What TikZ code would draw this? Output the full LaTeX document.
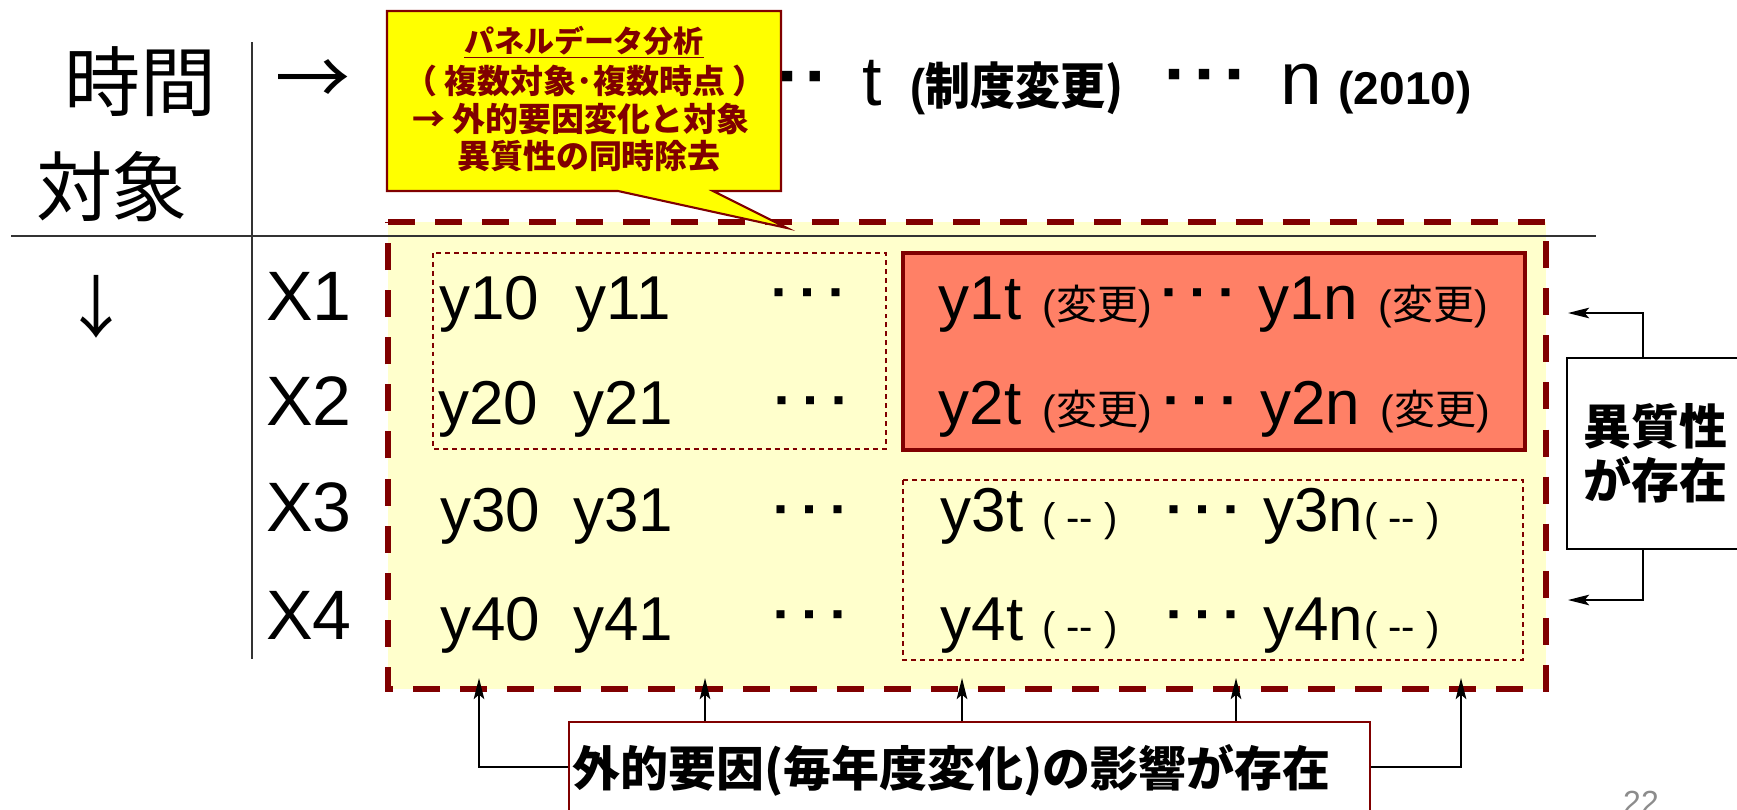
\documentclass[tikz,border=0pt]{standalone}
\usepackage{fontspec}
\usepackage{graphicx}
\setmainfont{Liberation Sans}
\newfontfamily\jp{Noto Sans CJK JP}
\usetikzlibrary{arrows.meta}
\newdimen\pxu \pxu=0.569pt
\newdimen\pxtmp
\newcommand\fpx[1]{\pxtmp=#1\pxu\fontsize{\the\pxtmp}{1.2\pxtmp}\selectfont}
% square dots: #1 font size (px), #2 gap (px)
\newcommand\sq[1]{{\jp\fpx{#1}■}}
\newcommand\rowdots{\sq{10}\hspace{18.5\pxu}\sq{10}\hspace{18.5\pxu}\sq{10}}
\newcommand\topdots{\sq{13}\hspace{17\pxu}\sq{13}\hspace{17\pxu}\sq{13}}
\definecolor{dred}{RGB}{128,0,0}
\definecolor{lyel}{RGB}{255,255,204}
\definecolor{salm}{RGB}{255,128,102}
\definecolor{cyel}{RGB}{255,255,0}
\definecolor{pgray}{RGB}{140,140,140}
\begin{document}
\begin{tikzpicture}[x=0.02cm,y=-0.02cm,
  tok/.style={inner sep=0pt,anchor=base},
  ctr/.style={inner sep=0pt,anchor=center},
  rowtxt/.style={tok,font=\fpx{62}},
  small/.style={tok,font=\fpx{41}},
  dashpar/.style={tok,font=\fpx{40}},
  dots/.style={ctr},
  ctxt/.style={tok,text=dred,font=\jp\bfseries\fpx{33}},
  arr/.style={-{Stealth[length=12pt,width=6pt,inset=2.5pt]},line width=1.1pt},
  thindash/.style={draw=dred,line width=0.85pt,dash pattern=on 2.8pt off 2.3pt},
  axis/.style={line width=1.1pt,draw=black!80},
]
\useasboundingbox (0,0) rectangle (1737,809);
\clip (0,0) rectangle (1737,809);

% panel box
\draw[fill=lyel,draw=dred,line width=3.7pt,dash pattern=on 15.4pt off 11.4pt]
  (388,222) -- (1546,222) -- (1546,689) -- (388,689) -- cycle;

% axes
\draw[axis] (11,236) -- (1596,236);
\draw[axis] (252,42) -- (252,659);

% inner boxes
\draw[thindash] (433,253) rectangle (886,449);
\draw[fill=salm,draw=dred,line width=2.8pt] (903,253) rectangle (1525,450);
\draw[thindash] (903,480) rectangle (1523,660);

% headers
\node[ctr,font=\jp\fpx{76}] (jikan) at (140,82) {時間};
\node[ctr,font=\jp\fpx{76}] (taisho) at (112,187) {対象};
\node[ctr,font=\jp\fpx{75}] (rarr) at (313,83) {→};
\node[ctr,font=\jp\fpx{68}] (darr) at (96,307) {↓};

% top line
\node[dots] (td0) at (801,77) {\sq{13}\hspace{15\pxu}\sq{13}};
\node[tok,font=\fpx{70}] (tt) at (872,105) {t};
\node[tok,font=\bfseries\fpx{50}] (tch) at (1017,104) {\scalebox{0.9}[1]{(\jp 制度変更)}};
\node[dots] (td1) at (1204,75) {\topdots};
\node[tok,font=\fpx{75}] (tn) at (1301,104) {n};
\node[tok,font=\bfseries\fpx{46}] (tyr) at (1405,104) {(2010)};

% row labels
\node[tok,font=\fpx{70}] (x1) at (309,320) {X1};
\node[tok,font=\fpx{70}] (x2) at (309,425) {X2};
\node[tok,font=\fpx{70}] (x3) at (309,531) {X3};
\node[tok,font=\fpx{70}] (x4) at (309,639) {X4};

% row 1
\node[rowtxt] (y10) at (489,319) {y10};
\node[rowtxt] (y11) at (623,319) {y11};
\node[dots] (d1a) at (807,293) {\rowdots};
\node[rowtxt] (y1t) at (980,319) {y1t};
\node[small] (c1t) at (1097,319) {(\jp 変更\rmfamily)};
\node[dots] (d1b) at (1197,293) {\rowdots};
\node[rowtxt] (y1n) at (1308,319) {y1n};
\node[small] (c1n) at (1433,319) {(\jp 変更\rmfamily)};
% row 2
\node[rowtxt] (y20) at (488,424) {y20};
\node[rowtxt] (y21) at (623,424) {y21};
\node[dots] (d2a) at (810,401) {\rowdots};
\node[rowtxt] (y2t) at (980,424) {y2t};
\node[small] (c2t) at (1097,424) {(\jp 変更\rmfamily)};
\node[dots] (d2b) at (1199,401) {\rowdots};
\node[rowtxt] (y2n) at (1310,424) {y2n};
\node[small] (c2n) at (1435,424) {(\jp 変更\rmfamily)};
% row 3
\node[rowtxt] (y30) at (490,531) {y30};
\node[rowtxt] (y31) at (623,531) {y31};
\node[dots] (d3a) at (809,510) {\rowdots};
\node[rowtxt] (y3t) at (982,531) {y3t};
\node[dashpar] (c3t) at (1080,531) {( -{}- )};
\node[dots] (d3b) at (1202,510) {\rowdots};
\node[rowtxt] (y3n) at (1313,531) {y3n};
\node[dashpar] (c3n) at (1402,531) {( -{}- )};
% row 4
\node[rowtxt] (y40) at (490,640) {y40};
\node[rowtxt] (y41) at (623,640) {y41};
\node[dots] (d4a) at (809,615) {\rowdots};
\node[rowtxt] (y4t) at (982,640) {y4t};
\node[dashpar] (c4t) at (1080,640) {( -{}- )};
\node[dots] (d4b) at (1202,615) {\rowdots};
\node[rowtxt] (y4n) at (1313,640) {y4n};
\node[dashpar] (c4n) at (1402,640) {( -{}- )};

% callout
\draw[fill=cyel,draw=dred,line width=1.2pt]
  (387,11) -- (781,11) -- (781,191) -- (713,191) -- (787,228) -- (618,191) -- (387,191) -- cycle;
\node[ctxt,font=\jp\bfseries\fpx{30}] (cl1) at (584,52) {\underline{パネルデータ分析}};
\node[ctxt] (cl2) at (585,93) {（ 複数対象･複数時点 ）};
\node[ctxt] (cl3) at (581,131) {→ 外的要因変化と対象};
\node[ctxt] (cl4) at (589,168) {異質性の同時除去};

% heterogeneity box
\node[draw=black,line width=0.9pt,fill=white,minimum width=3.6cm,minimum height=3.82cm,
      inner sep=0pt,align=center,font=\jp\bfseries\fpx{48}] (het) at (1657,453.5)
      {\kern-4\pxu 異質性\\[-4\pxu]\kern-4\pxu が存在};
\coordinate (hx) at (1643,313);
\coordinate (h1) at (1568,313);
\coordinate (h2) at (1568,600);
\draw[arr] (het.north -| hx) |- (h1);
\draw[arr] (het.south -| hx) |- (h2);

% external factor box
\node[draw=dred,line width=0.9pt,fill=white,minimum width=16.02cm,minimum height=1.8cm,
      inner sep=0pt] (ext) at (969.5,767) {};
\node[tok,anchor=base west,font=\jp\bfseries\fpx{48}] (exttxt) at (572,786)
      {外的要因(毎年度変化)の影響が存在};
\coordinate (a1) at (479,678);
\coordinate (a2) at (705,678);
\coordinate (a3) at (962,678);
\coordinate (a4) at (1236,678);
\coordinate (a5) at (1461,678);
\draw[arr] (ext.west) -| (a1);
\draw[arr] (ext.north -| a2) -- (a2);
\draw[arr] (ext.north -| a3) -- (a3);
\draw[arr] (ext.north -| a4) -- (a4);
\draw[arr] (ext.east) -| (a5);

% page number
\node[tok,text=pgray,font=\fpx{32}] (pg) at (1641,813) {22};
\end{tikzpicture}
\end{document}
